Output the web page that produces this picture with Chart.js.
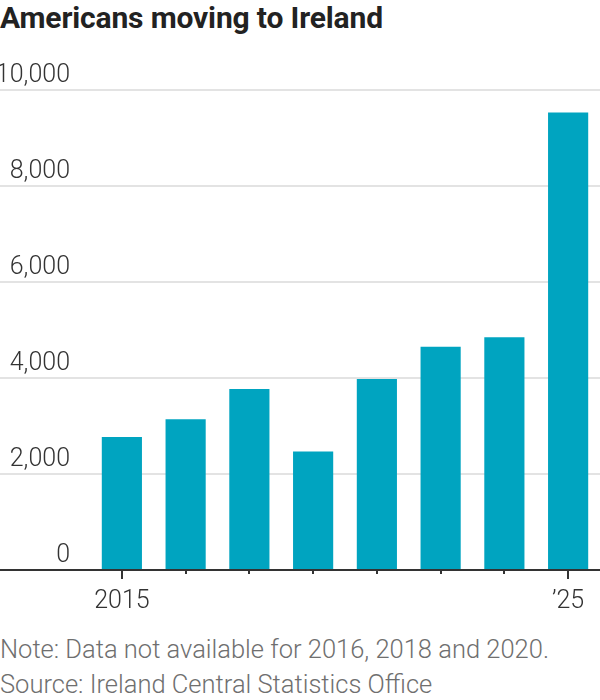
<!DOCTYPE html>
<html>
<head>
<meta charset="utf-8">
<script src="https://cdn.jsdelivr.net/npm/chart.js@4.4.1/dist/chart.umd.min.js"></script>
<style>
  body { margin: 0; background: #fff; width: 600px; height: 700px; position: relative; overflow: hidden;
         font-family: Roboto, "Liberation Sans", sans-serif; }
  #title { position: absolute; left: 0; top: 0; font-size: 30px; font-weight: bold; color: #222;
           line-height: 36px; letter-spacing: -0.15px; white-space: nowrap; }
  #wrap { position: absolute; left: 0; top: 50px; width: 600px; height: 580px; }
  .note { position: absolute; left: 0; font-size: 25.5px; font-weight: 300; color: #6f6f6f;
          line-height: 30px; white-space: nowrap; }
</style>
</head>
<body>
<div id="title">Americans moving to Ireland</div>
<div id="wrap"><canvas id="chart"></canvas></div>
<div class="note" style="top:634px">Note: Data not available for 2016, 2018 and 2020.</div>
<div class="note" style="top:669px">Source: Ireland Central Statistics Office</div>
<script>
const years = ['2015', '2017', '2019', '2021', '2022', '2023', '2024', '2025'];
const movers = [2770, 3140, 3770, 2470, 3980, 4650, 4850, 9530];
const yTicks = [0, 2000, 4000, 6000, 8000, 10000];
const xTickLabels = { '2015': '2015', '2025': '\u201925' };

const FONT = 'Roboto, "Liberation Sans", sans-serif';

// small tick marks under the baseline, longer where there's a label
const tickMarks = {
  id: 'tickMarks',
  afterDatasetsDraw(chart) {
    const xs = chart.scales.x, ys = chart.scales.y;
    const ctx = chart.ctx;
    const y0 = ys.getPixelForValue(0);
    ctx.save();
    ctx.strokeStyle = '#333';
    ctx.lineWidth = 2;
    years.forEach((yr, i) => {
      const x = Math.round(xs.getPixelForTick(i));
      const len = xTickLabels[yr] ? 9 : 4;
      ctx.beginPath();
      ctx.moveTo(x, y0);
      ctx.lineTo(x, y0 + len);
      ctx.stroke();
    });
    ctx.restore();
  }
};

new Chart(document.getElementById('chart'), {
  type: 'bar',
  data: {
    labels: years,
    datasets: [{
      data: movers,
      backgroundColor: '#00a4c0',
      borderWidth: 0,
      barPercentage: 0.63,
      categoryPercentage: 1
    }]
  },
  options: {
    responsive: true,
    maintainAspectRatio: false,
    animation: false,
    layout: { padding: { top: 40, left: 0, right: 0, bottom: 0 } },
    plugins: { legend: { display: false }, tooltip: { enabled: false } },
    scales: {
      x: {
        offset: true,
        grid: { display: false },
        border: { display: false },
        afterFit: (s) => { s.height = 60; },
        ticks: {
          autoSkip: false,
          maxRotation: 0,
          padding: 9,
          color: '#333',
          font: { family: FONT, size: 25, weight: '300' },
          callback: (v, i) => xTickLabels[years[i]] || ''
        }
      },
      y: {
        min: 0,
        max: 10000,
        afterFit: (s) => { s.width = 90; },
        afterBuildTicks: (s) => { s.ticks = yTicks.map(v => ({ value: v })); },
        border: { display: false },
        grid: {
          color: (c) => c.tick.value === 0 ? '#333' : '#e3e3e3',
          tickColor: (c) => c.tick.value === 0 ? '#333' : '#e3e3e3',
          lineWidth: 2,
          tickWidth: 2,
          tickLength: 90,
          drawTicks: true
        },
        ticks: {
          padding: -70,
          labelOffset: -14,
          color: '#333',
          font: { family: FONT, size: 25, weight: '300' },
          callback: (v) => v.toLocaleString('en-US')
        }
      }
    }
  },
  plugins: [tickMarks]
});
</script>
</body>
</html>
